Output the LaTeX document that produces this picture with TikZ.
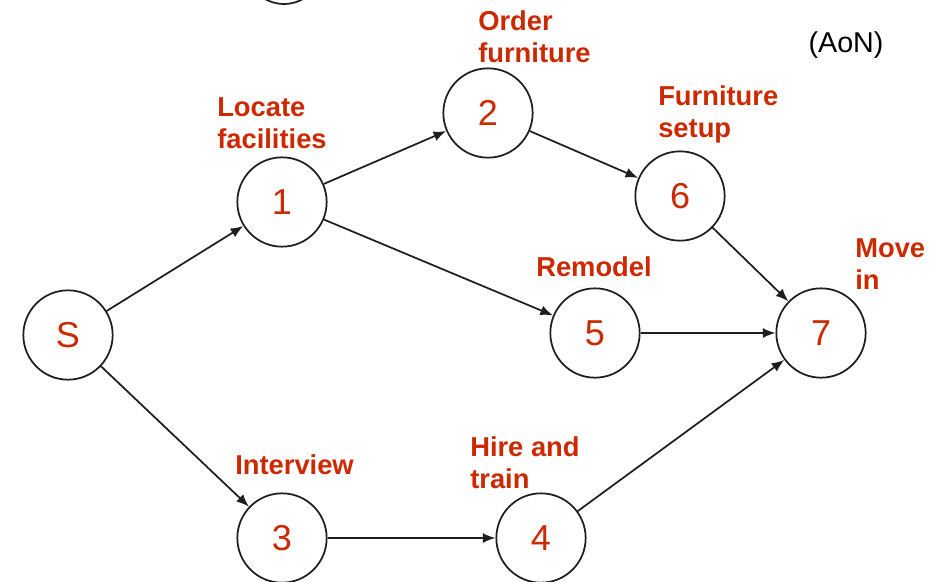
\documentclass[tikz,border=0pt]{standalone}
\usepackage{fontspec}
\setmainfont{Liberation Sans}
\usetikzlibrary{arrows.meta}
\definecolor{labelred}{RGB}{204,41,0}
\definecolor{edgegray}{RGB}{30,30,30}
\begin{document}
\begin{tikzpicture}[x=0.75pt,y=-0.75pt,
  event/.style={circle,draw=edgegray,line width=1.3pt,minimum size=67pt,inner sep=0pt,
    text=labelred,font=\fontsize{27}{30}\selectfont},
  task/.style={anchor=west,align=left,inner sep=0pt,text=labelred,
    font=\fontsize{20.5}{24}\selectfont\bfseries},
  link/.style={draw=edgegray,line width=1.3pt,-{Latex[length=9.5pt,width=7.5pt]}}]
\clip (0,0) rectangle (937,581);
\fill[white] (0,0) rectangle (937,581);

% circle cut off at the top edge
\draw[edgegray,line width=1.3pt] (284,-34) circle[radius=38];

% events
\node[event] (S) at (68,335) {S};
\node[event] (n1) at (282,202) {1};
\node[event] (n2) at (488,113) {2};
\node[event] (n6) at (680,196) {6};
\node[event] (n5) at (595,333) {5};
\node[event] (n7) at (821,333) {7};
\node[event] (n3) at (282,538) {3};
\node[event] (n4) at (541,538) {4};

% activity names
\node[task] (tOrder) at (478,37) {Order\\furniture};
\node[task] (tLocate) at (217,123) {Locate\\facilities};
\node[task] (tSetup) at (658,114) {Furniture\\setup};
\node[task] (tRemodel) at (536,267) {Remodel};
\node[task] (tMove) at (855,264) {Move\\in};
\node[task] (tInterview) at (235,465) {Interview};
\node[task] (tHire) at (470,463) {Hire and\\train};

% title
\node[font=\fontsize{21.5}{24}\selectfont] (title) at (846,45) {(AoN)};

% precedence links
\draw[link] (S) -- (n1);
\draw[link] (S) -- (n3);
\draw[link] (n1) -- (n2);
\draw[link] (n1) -- (n5);
\draw[link] (n2) -- (n6);
\draw[link] (n6) -- (n7);
\draw[link] (n5) -- (n7);
\draw[link] (n3) -- (n4);
\draw[link] (n4) -- (n7);
\end{tikzpicture}
\end{document}
